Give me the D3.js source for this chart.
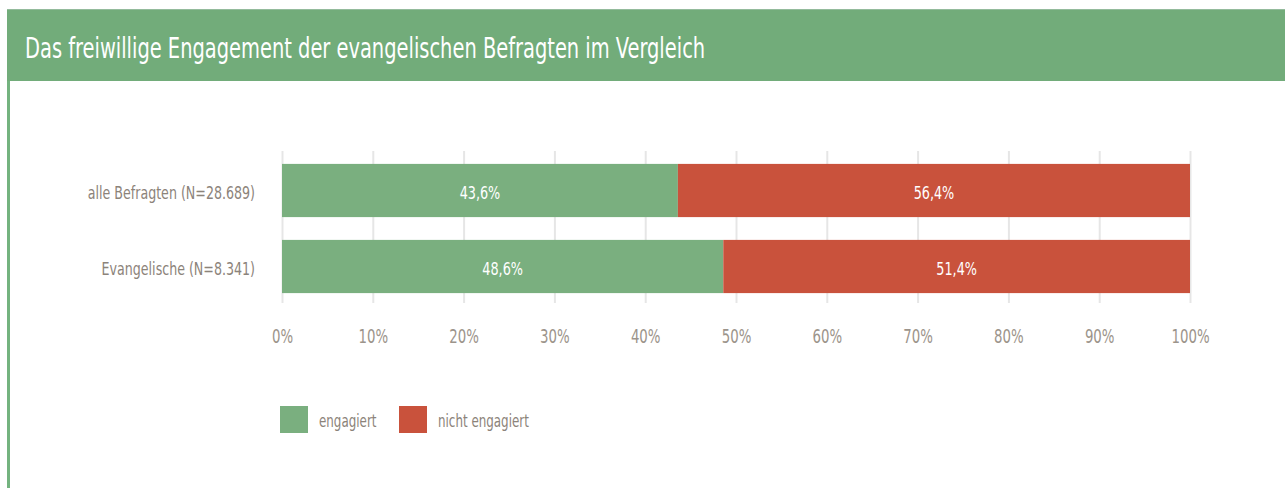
<!DOCTYPE html>
<html lang="de">
<head>
<meta charset="UTF-8">
<title>Freiwilliges Engagement</title>
<style>
  body { margin: 0; background: #fff; }
  svg text { font-family: "DejaVu Sans Condensed", "Liberation Sans", sans-serif; }
</style>
</head>
<body>
<div id="chart"></div>
<script src="https://d3js.org/d3.v7.min.js"></script>
<script>
const title = "Das freiwillige Engagement der evangelischen Befragten im Vergleich";
const categories = ["alle Befragten (N=28.689)", "Evangelische (N=8.341)"];
const seriesNames = ["engagiert", "nicht engagiert"];
const engagiert = [43.6, 48.6];
const nichtEngagiert = [56.4, 51.4];
const ticks = [0, 10, 20, 30, 40, 50, 60, 70, 80, 90, 100];
const colors = ["#7aaf7f", "#c9523c"];

const W = 1285, H = 488;
const svg = d3.select("#chart").append("svg")
  .attr("width", W).attr("height", H);

// squeeze text horizontally, the original uses a condensed face
function squeeze(sel, k) {
  sel.each(function() {
    const len = this.getComputedTextLength();
    d3.select(this).attr("textLength", len * k).attr("lengthAdjust", "spacingAndGlyphs");
  });
}

// frame: title bar + left rule
svg.append("rect").attr("x", 7).attr("y", 9).attr("width", W - 7).attr("height", 72).attr("fill", "#72ac7a");
svg.append("rect").attr("x", 7).attr("y", 9).attr("width", W - 7).attr("height", 1).attr("fill", "#94bb9c");
svg.append("rect").attr("x", 7).attr("y", 81).attr("width", 3).attr("height", H - 81).attr("fill", "#74b37f");

svg.append("text").attr("x", 25).attr("y", 58)
  .attr("fill", "#fff").attr("font-size", 29)
  .text(title).call(squeeze, 0.745);

const x = d3.scaleLinear().domain([0, 100]).range([282, 1190]);
const y = d3.scaleBand().domain(categories).range([152.5, 304.5])
  .paddingInner(0.3).paddingOuter(0.15);

// grid + axis labels
const axis = svg.append("g").attr("transform", "translate(0,303)")
  .call(d3.axisBottom(x).tickValues(ticks).tickSize(-152).tickFormat(d => d + "%"));
axis.select(".domain").remove();
axis.selectAll(".tick line").attr("stroke", "#e6e6e6").attr("stroke-width", 2);
axis.selectAll(".tick text").attr("y", 40).attr("dy", 0)
  .attr("fill", "#9c948b").attr("font-size", 20)
  .call(squeeze, 0.74);

const rows = categories.map((c, i) => ({ c, vals: [engagiert[i], nichtEngagiert[i]] }));

const g = svg.append("g");
rows.forEach(r => {
  let acc = 0;
  r.vals.forEach((v, j) => {
    g.append("rect")
      .attr("x", x(acc)).attr("y", y(r.c))
      .attr("width", x(acc + v) - x(acc)).attr("height", y.bandwidth())
      .attr("fill", colors[j]);
    g.append("text")
      .attr("x", x(acc + v / 2)).attr("y", y(r.c) + y.bandwidth() / 2 + 8)
      .attr("text-anchor", "middle").attr("fill", "#fff").attr("font-size", 18)
      .text(v.toFixed(1).replace(".", ",") + "%")
      .call(squeeze, 0.79);
    acc += v;
  });
  g.append("text")
    .attr("x", 255).attr("y", y(r.c) + y.bandwidth() / 2 + 8)
    .attr("text-anchor", "end").attr("fill", "#8c837a").attr("font-size", 18)
    .text(r.c).call(squeeze, 0.78);
});

// legend
const legX = [280, 399];
seriesNames.forEach((s, i) => {
  svg.append("rect").attr("x", legX[i]).attr("y", 406).attr("width", 28).attr("height", 27).attr("fill", colors[i]);
  svg.append("text").attr("x", legX[i] + 39).attr("y", 427)
    .attr("fill", "#8c837a").attr("font-size", 18).text(s).call(squeeze, 0.735);
});
</script>
</body>
</html>
